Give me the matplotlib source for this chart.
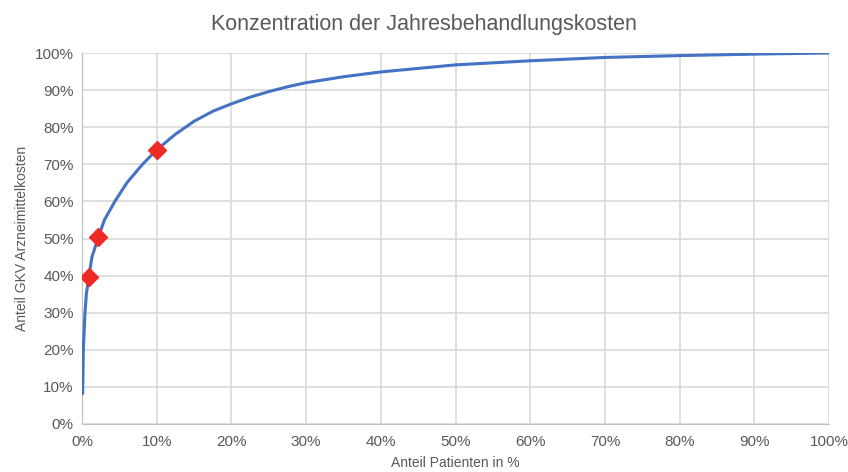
import numpy as np
import matplotlib.pyplot as plt

plt.rcParams['font.family'] = ['Liberation Sans', 'DejaVu Sans']

# Konzentrationskurve
anteil_patienten = [0.09, 0.18, 0.4, 0.58, 0.9, 1.33, 2.2, 3.0, 4.4, 6.0, 8.1, 10,
                    12.5, 15, 17.5, 20, 22.5, 25, 27.5, 30, 35, 40, 50, 60, 70, 80, 90, 100]
anteil_kosten = [8.2, 20, 30, 35, 39.5, 45, 50.4, 55, 60, 65, 70, 73.9,
                 78.1, 81.6, 84.3, 86.3, 88.1, 89.6, 90.9, 92.0, 93.6, 94.9, 96.8, 97.9, 98.8, 99.3, 99.7, 100]

# markierte Punkte
mark_x = [0.9, 2.2, 10]
mark_y = [39.5, 50.4, 73.9]

ticks = list(range(0, 101, 10))
tick_labels = [f'{t}%' for t in ticks]

fig = plt.figure(figsize=(8.48, 4.72), dpi=100)
ax = fig.add_axes([0.0967, 0.1017, 0.881, 0.786])

ax.plot(anteil_patienten, anteil_kosten, color='#4472C4', lw=2.2, zorder=3,
        solid_joinstyle='round', solid_capstyle='round')
ax.plot(mark_x, mark_y, 'D', color='#EE2A24', ms=9, zorder=4)

ax.set_xlim(0, 100)
ax.set_ylim(0, 100)
ax.set_xticks(ticks)
ax.set_xticklabels(tick_labels)
ax.set_yticks(ticks)
ax.set_yticklabels(tick_labels)
ax.tick_params(axis='x', length=0, labelsize=11, labelcolor='#595959', pad=8)
ax.tick_params(axis='y', length=0, labelsize=11, labelcolor='#595959', pad=6)
ax.grid(True, color='#D9D9D9', lw=1.2)
ax.set_axisbelow(True)
for s in ['top', 'right']:
    ax.spines[s].set_visible(False)
for s in ['left', 'bottom']:
    ax.spines[s].set_color('#BFBFBF')

ax.set_xlabel('Anteil Patienten in %', fontsize=10, color='#595959', labelpad=5)
ax.set_ylabel('Anteil GKV Arzneimittelkosten', fontsize=10, color='#595959', labelpad=4)
fig.suptitle('Konzentration der Jahresbehandlungskosten', fontsize=15.5, color='#595959', y=0.97)

fig.savefig('out.png', dpi=100)
